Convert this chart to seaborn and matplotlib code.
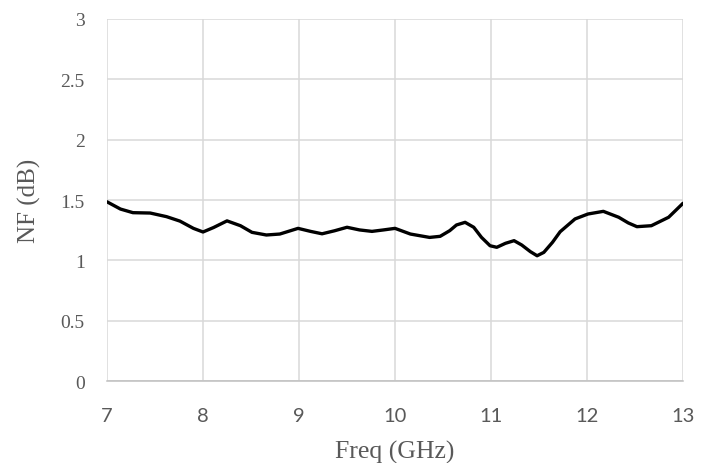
import matplotlib
matplotlib.use("Agg")
import matplotlib.pyplot as plt
import seaborn as sns
import pandas as pd

freq_ghz = [7.00, 7.07, 7.14, 7.27, 7.45, 7.62, 7.76, 7.90,
            8.00, 8.11, 8.25, 8.39, 8.51, 8.66, 8.80, 8.99,
            9.12, 9.24, 9.37, 9.50, 9.63, 9.76, 9.88, 10.00,
            10.16, 10.36, 10.47, 10.57, 10.64, 10.73, 10.82, 10.90,
            10.99, 11.06, 11.15, 11.24, 11.32, 11.41, 11.48, 11.55,
            11.64, 11.72, 11.875, 12.01, 12.17, 12.33, 12.43, 12.52,
            12.67, 12.85, 13.00]
nf_db = [1.485, 1.455, 1.425, 1.395, 1.392, 1.362, 1.325, 1.265,
         1.235, 1.272, 1.327, 1.287, 1.232, 1.21, 1.218, 1.265,
         1.24, 1.22, 1.245, 1.274, 1.252, 1.24, 1.252, 1.265,
         1.218, 1.19, 1.199, 1.246, 1.293, 1.315, 1.274, 1.191,
         1.121, 1.108, 1.141, 1.163, 1.127, 1.072, 1.038, 1.066,
         1.149, 1.237, 1.343, 1.384, 1.406, 1.357, 1.31, 1.279,
         1.287, 1.357, 1.473]
x_ticks = [7, 8, 9, 10, 11, 12, 13]
y_ticks = [0, 0.5, 1, 1.5, 2, 2.5, 3]
y_tick_labels = ["0", "0.5", "1", "1.5", "2", "2.5", "3"]

df = pd.DataFrame({"Freq": freq_ghz, "NF": nf_db})

sns.set_style("white")
fig = plt.figure(figsize=(7.12, 4.64), dpi=100)
ax = fig.add_axes([0.1503, 0.1767, 0.809, 0.7802])

sns.lineplot(data=df, x="Freq", y="NF", ax=ax, color="black", linewidth=2.4,
             solid_joinstyle="round", solid_capstyle="round")

ax.set_xlim(7, 13)
ax.set_ylim(0, 3)
ax.set_xticks(x_ticks)
ax.set_xticklabels([str(t) for t in x_ticks])
ax.set_yticks(y_ticks)
ax.set_yticklabels(y_tick_labels)
for lab in ax.get_xticklabels():
    lab.set_fontfamily(["Lato", "Open Sans", "DejaVu Sans"])
    lab.set_fontsize(14.5)
    lab.set_color("#595959")
for lab in ax.get_yticklabels():
    lab.set_fontfamily(["Liberation Serif", "DejaVu Serif"])
    lab.set_fontsize(14)
    lab.set_color("#595959")
ax.tick_params(axis="x", length=0, pad=19)
ax.tick_params(axis="y", length=0, pad=16)
ax.grid(True, color="#d9d9d9", linewidth=1.1)
ax.set_axisbelow(True)
for side in ["top", "right", "left"]:
    ax.spines[side].set_visible(False)
ax.spines["bottom"].set_color("#bfbfbf")
ax.spines["bottom"].set_linewidth(1.1)

ax.set_xlabel("Freq (GHz)", family="Liberation Serif", fontsize=18.5, color="#595959", labelpad=11)
ax.set_ylabel("NF (dB)", family="Liberation Serif", fontsize=18, color="#595959", labelpad=14)

fig.savefig("out.png", dpi=100)
